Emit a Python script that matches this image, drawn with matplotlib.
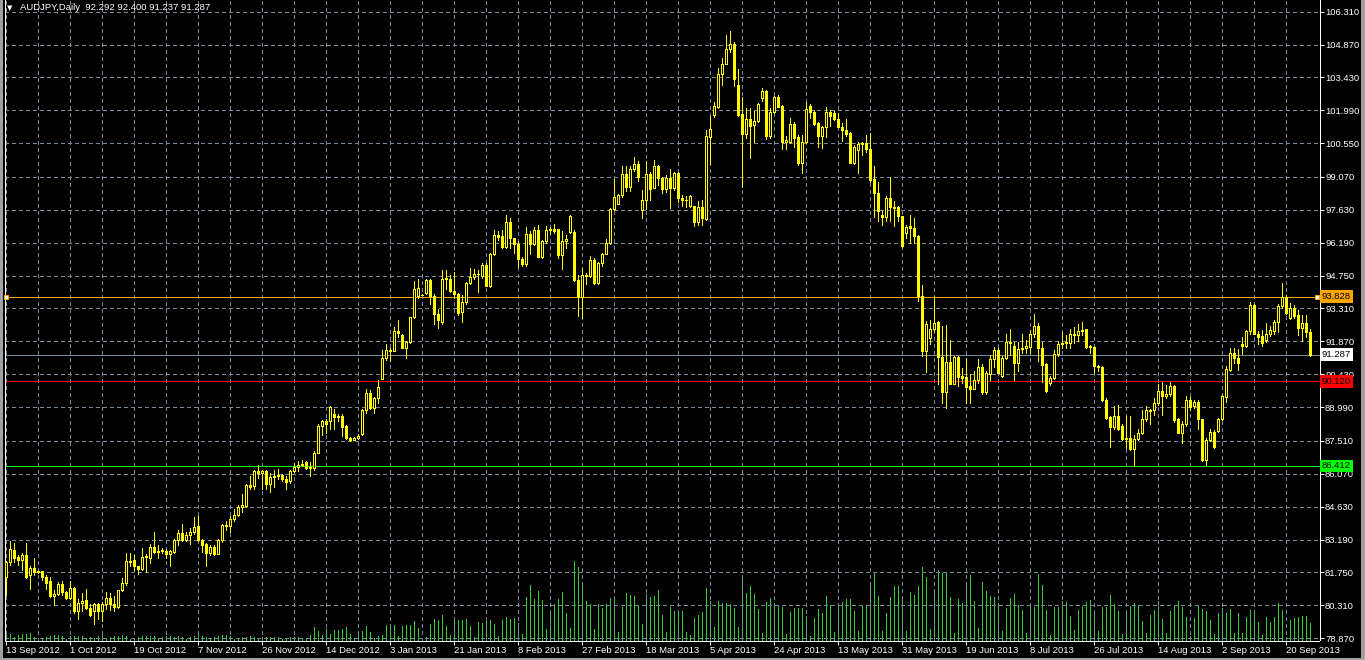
import numpy as np
import matplotlib
matplotlib.use("Agg")
import matplotlib.pyplot as plt
from matplotlib.patches import Rectangle
from matplotlib.transforms import blended_transform_factory

symbol = "AUDJPY,Daily"

# daily bars, 13 Sep 2012 .. 27 Sep 2013
opens = [
    81.53, 82.22, 82.73, 82.44, 82.29, 82.51, 81.62, 81.96, 81.76, 81.79,
    81.55, 81.39, 80.70, 80.81, 81.24, 80.88, 80.61, 81.07, 80.06, 80.43,
    80.52, 80.18, 80.06, 80.38, 80.06, 80.35, 80.64, 80.35, 80.24, 80.97,
    81.29, 82.27, 82.29, 82.01, 81.91, 82.44, 82.39, 82.87, 82.63, 82.68,
    82.70, 82.57, 82.63, 83.16, 83.49, 83.16, 83.40, 83.52, 83.79, 83.16,
    82.98, 82.58, 82.87, 82.57, 83.16, 83.83, 83.78, 84.09, 84.27, 84.63,
    84.67, 85.56, 85.53, 86.18, 86.11, 86.18, 85.61, 85.94, 85.99, 86.02,
    85.85, 85.75, 86.18, 86.35, 86.47, 86.57, 86.33, 86.33, 87.00, 88.16,
    88.37, 88.40, 88.70, 88.56, 88.60, 88.16, 87.65, 87.56, 87.63, 87.80,
    88.85, 89.62, 88.97, 89.38, 90.24, 91.13, 91.48, 91.45, 92.33, 92.15,
    91.60, 91.84, 92.94, 93.86, 93.90, 93.97, 94.55, 93.86, 93.06, 92.73,
    94.59, 94.59, 94.08, 93.96, 93.17, 93.61, 94.44, 94.69, 94.81, 94.73,
    95.20, 94.30, 95.68, 96.53, 96.50, 96.00, 97.10, 96.38, 96.12, 95.46,
    95.28, 96.56, 96.15, 96.75, 95.57, 96.27, 96.75, 96.78, 96.78, 95.66,
    96.27, 96.68, 96.68, 94.55, 93.82, 94.78, 94.74, 95.42, 94.44, 95.32,
    95.71, 96.19, 97.65, 97.90, 98.30, 99.19, 98.63, 99.41, 99.66, 97.61,
    98.05, 99.22, 98.58, 99.56, 99.02, 98.55, 99.02, 98.58, 99.24, 98.17,
    98.04, 97.78, 97.81, 97.09, 97.75, 97.24, 100.84, 101.78, 102.15, 103.60,
    104.00, 104.69, 104.91, 103.09, 101.81, 100.94, 101.59, 101.35, 101.54, 102.54,
    102.83, 100.87, 101.90, 102.58, 102.18, 100.59, 100.59, 101.39, 100.81, 99.70,
    100.59, 102.18, 101.90, 101.45, 100.88, 101.27, 101.90, 101.86, 101.59, 101.27,
    101.13, 101.01, 99.70, 100.23, 100.52, 100.55, 100.30, 98.99, 98.36, 97.42,
    97.30, 98.14, 97.75, 97.75, 97.34, 96.61, 96.91, 96.83, 96.50, 93.85,
    91.45, 92.03, 92.39, 92.73, 91.20, 89.63, 90.98, 90.02, 91.20, 90.35,
    90.32, 89.92, 89.80, 90.16, 90.76, 89.63, 90.45, 91.08, 91.49, 90.36,
    91.13, 91.85, 91.66, 90.94, 91.52, 91.60, 91.63, 92.21, 92.53, 91.56,
    90.87, 90.04, 90.26, 91.32, 91.75, 91.78, 91.81, 92.19, 92.14, 92.32,
    92.39, 91.63, 91.63, 90.79, 90.76, 89.32, 88.55, 88.13, 88.59, 88.18,
    87.58, 87.65, 87.14, 87.58, 87.84, 88.45, 88.85, 88.85, 89.17, 89.68,
    89.46, 89.58, 89.92, 88.45, 87.87, 88.23, 89.32, 89.03, 89.23, 88.45,
    86.68, 87.55, 87.91, 87.94, 88.45, 89.43, 90.62, 91.34, 91.13, 91.75,
    91.66, 92.32, 93.45, 92.21, 92.10, 91.92, 92.21, 92.33, 92.72, 93.40,
    93.81, 92.91, 93.34, 93.01, 92.47, 92.68, 92.292,
]
highs = [
    82.25, 83.12, 83.02, 82.51, 82.58, 83.02, 82.04, 82.39, 81.83, 81.82,
    81.65, 81.57, 81.00, 81.31, 81.39, 80.95, 81.39, 81.10, 80.57, 80.85,
    81.03, 80.35, 80.42, 80.42, 80.47, 80.90, 80.85, 80.71, 81.00, 81.50,
    82.58, 82.61, 82.51, 82.05, 82.80, 82.55, 82.98, 83.52, 82.94, 82.80,
    82.77, 82.73, 83.23, 83.59, 83.88, 83.52, 83.69, 84.17, 84.24, 83.23,
    83.05, 82.94, 82.94, 83.23, 83.88, 83.98, 84.21, 84.53, 84.70, 85.17,
    85.61, 85.99, 86.25, 86.47, 86.25, 86.25, 86.11, 86.25, 86.28, 86.06,
    85.97, 86.22, 86.54, 86.61, 86.66, 86.61, 86.57, 87.05, 88.27, 88.44,
    88.49, 89.05, 88.90, 88.70, 88.70, 88.20, 87.70, 87.70, 87.80, 88.90,
    89.77, 89.73, 89.45, 90.17, 91.48, 91.74, 91.60, 92.50, 92.79, 92.18,
    91.90, 92.95, 94.52, 94.59, 93.95, 94.62, 94.62, 93.93, 93.28, 94.98,
    94.98, 94.78, 94.92, 93.99, 93.90, 94.45, 95.07, 95.03, 94.98, 95.32,
    95.32, 95.76, 96.74, 96.71, 96.74, 97.41, 97.29, 96.40, 96.27, 95.55,
    96.88, 96.71, 96.88, 96.97, 96.30, 96.92, 96.88, 97.03, 96.80, 96.71,
    96.53, 97.41, 96.74, 94.78, 95.10, 94.85, 95.61, 95.54, 95.35, 95.75,
    96.34, 97.70, 98.97, 98.34, 99.55, 99.55, 99.55, 99.95, 99.77, 98.49,
    99.77, 99.30, 99.82, 99.60, 99.09, 99.16, 99.42, 99.31, 99.31, 98.29,
    98.22, 98.29, 97.81, 98.00, 98.07, 101.13, 101.75, 102.34, 103.85, 104.26,
    105.28, 105.45, 104.99, 103.82, 102.58, 102.07, 102.07, 101.96, 102.29, 102.95,
    102.87, 102.07, 102.63, 102.66, 102.22, 100.88, 101.64, 101.49, 100.91, 100.91,
    102.34, 102.25, 102.00, 101.49, 101.32, 102.15, 102.00, 101.96, 101.86, 101.42,
    101.59, 101.06, 100.47, 100.59, 100.62, 100.91, 100.98, 99.53, 98.87, 97.56,
    98.22, 99.09, 98.03, 97.78, 97.37, 96.98, 97.42, 97.27, 96.54, 94.36,
    92.76, 92.79, 93.85, 92.76, 92.54, 92.58, 91.91, 91.23, 91.23, 90.69,
    91.13, 90.46, 90.57, 91.08, 90.89, 90.57, 91.27, 91.63, 91.56, 91.23,
    92.21, 92.39, 91.85, 91.85, 92.21, 91.92, 92.36, 93.05, 92.68, 91.85,
    90.91, 90.36, 91.49, 91.90, 92.29, 92.14, 92.39, 92.50, 92.65, 92.72,
    92.43, 91.70, 91.66, 90.84, 90.79, 89.39, 88.61, 89.05, 89.10, 88.23,
    88.59, 88.62, 87.75, 88.04, 88.88, 89.05, 88.91, 89.39, 90.01, 90.11,
    89.97, 90.11, 89.97, 88.52, 88.37, 89.46, 89.43, 89.32, 89.29, 88.48,
    87.65, 88.01, 87.98, 88.52, 89.53, 90.77, 91.56, 91.56, 91.52, 92.07,
    92.36, 93.59, 93.49, 92.33, 92.36, 92.68, 92.53, 92.82, 93.52, 94.42,
    93.88, 93.55, 93.45, 93.26, 93.01, 93.01, 92.400,
]
lows = [
    80.78, 82.08, 82.22, 82.08, 81.86, 81.50, 81.04, 81.65, 81.72, 81.43,
    81.04, 80.67, 80.32, 80.75, 80.78, 80.57, 80.57, 79.99, 79.71, 80.06,
    80.13, 79.86, 79.49, 79.71, 79.63, 80.13, 80.09, 80.06, 80.21, 80.93,
    81.21, 82.01, 81.86, 81.69, 81.86, 81.76, 82.15, 82.60, 82.37, 82.58,
    82.37, 82.05, 82.58, 82.94, 83.14, 83.14, 82.98, 83.45, 83.12, 82.65,
    82.05, 82.51, 82.51, 82.55, 83.09, 83.59, 83.52, 84.02, 84.21, 84.38,
    84.63, 85.39, 85.39, 85.90, 85.39, 85.39, 85.29, 85.50, 85.82, 85.75,
    85.39, 85.68, 86.15, 86.18, 86.43, 86.29, 85.98, 86.25, 86.97, 87.77,
    87.84, 88.02, 88.02, 88.40, 87.73, 87.58, 87.50, 87.55, 87.60, 87.78,
    88.75, 88.90, 88.75, 89.19, 90.20, 91.04, 91.00, 91.45, 92.06, 91.57,
    91.13, 91.80, 92.90, 93.79, 93.88, 93.96, 93.49, 92.62, 92.44, 92.62,
    94.15, 94.05, 93.79, 93.03, 92.73, 93.52, 94.40, 94.59, 94.05, 94.66,
    94.28, 94.25, 95.65, 96.30, 95.95, 95.98, 95.95, 95.76, 95.13, 95.17,
    95.17, 95.71, 96.10, 95.55, 95.51, 96.20, 96.60, 96.63, 95.54, 95.03,
    95.95, 96.63, 94.50, 92.98, 92.91, 94.40, 94.70, 94.40, 94.40, 95.17,
    95.70, 96.12, 97.61, 97.87, 98.20, 98.46, 98.46, 99.33, 98.90, 97.29,
    97.65, 98.05, 98.58, 98.70, 98.36, 98.43, 97.71, 98.51, 97.97, 97.78,
    97.74, 97.74, 96.91, 96.98, 96.98, 97.20, 99.63, 101.71, 102.07, 103.09,
    104.00, 104.55, 103.06, 101.75, 98.65, 100.76, 99.92, 100.62, 101.49, 102.39,
    100.73, 100.76, 101.86, 102.12, 100.30, 100.30, 100.55, 100.40, 99.60, 99.26,
    100.55, 101.67, 101.35, 100.40, 100.36, 100.84, 101.32, 101.56, 101.24, 100.66,
    100.87, 99.67, 99.63, 99.26, 100.04, 100.18, 98.87, 97.30, 97.12, 96.98,
    97.12, 97.12, 96.91, 97.12, 96.00, 96.40, 96.18, 96.18, 93.63, 91.23,
    90.54, 91.77, 92.32, 90.02, 89.19, 88.97, 89.99, 89.99, 89.92, 90.06,
    89.15, 89.19, 89.77, 90.06, 89.58, 89.55, 90.18, 90.76, 90.47, 90.33,
    91.08, 91.27, 90.16, 90.55, 91.34, 91.34, 91.37, 92.07, 91.03, 90.07,
    89.66, 89.97, 90.22, 91.23, 91.56, 91.60, 91.60, 91.81, 91.90, 92.14,
    91.60, 91.37, 90.50, 90.55, 89.24, 88.48, 87.26, 88.01, 87.98, 87.55,
    87.22, 87.11, 86.42, 87.55, 87.80, 88.37, 88.23, 88.63, 89.10, 88.63,
    89.39, 89.46, 88.34, 87.84, 87.43, 88.18, 88.88, 88.95, 88.04, 86.64,
    86.45, 87.50, 87.22, 87.90, 88.42, 89.20, 90.55, 90.91, 90.62, 91.31,
    91.63, 92.21, 92.18, 91.75, 91.66, 91.85, 92.10, 92.21, 92.29, 93.34,
    93.08, 92.87, 92.91, 92.14, 91.90, 92.07, 91.237,
]
closes = [
    82.22, 82.76, 82.39, 82.29, 82.51, 81.57, 81.96, 81.76, 81.79, 81.53,
    81.29, 80.70, 80.81, 81.24, 80.88, 80.61, 81.07, 80.06, 80.43, 80.49,
    80.18, 79.89, 80.38, 80.06, 80.35, 80.64, 80.35, 80.24, 80.97, 81.29,
    82.27, 82.22, 82.01, 81.91, 82.44, 82.47, 82.87, 82.63, 82.68, 82.73,
    82.54, 82.67, 83.16, 83.49, 83.16, 83.40, 83.52, 83.76, 83.16, 82.94,
    82.58, 82.87, 82.57, 83.16, 83.83, 83.78, 84.09, 84.27, 84.63, 84.70,
    85.56, 85.51, 86.18, 86.11, 86.18, 85.61, 85.94, 85.99, 86.02, 85.85,
    85.71, 86.18, 86.35, 86.47, 86.50, 86.33, 86.37, 87.00, 88.16, 88.37,
    88.23, 88.98, 88.56, 88.60, 88.12, 87.65, 87.55, 87.63, 87.72, 88.85,
    89.62, 88.97, 89.38, 89.87, 91.13, 91.48, 91.45, 92.33, 92.25, 91.60,
    91.84, 92.94, 94.15, 94.22, 93.92, 94.55, 93.86, 93.06, 92.79, 94.59,
    94.66, 94.08, 93.96, 93.13, 93.61, 94.44, 94.69, 94.81, 94.84, 95.20,
    94.30, 95.68, 96.53, 96.45, 96.00, 97.10, 96.38, 96.12, 95.46, 95.28,
    96.56, 96.15, 96.75, 95.57, 96.27, 96.75, 96.78, 96.71, 95.66, 96.27,
    96.37, 97.36, 94.55, 93.82, 94.78, 94.74, 95.42, 94.44, 95.32, 95.71,
    96.19, 97.65, 98.20, 98.30, 99.19, 98.63, 99.41, 99.66, 99.07, 98.05,
    99.22, 98.53, 99.56, 99.02, 98.55, 99.02, 98.58, 99.24, 98.17, 98.04,
    98.07, 98.25, 97.09, 97.75, 97.27, 100.87, 101.17, 102.18, 103.60, 104.00,
    104.69, 104.91, 103.38, 101.78, 100.94, 101.59, 101.32, 101.54, 102.25, 102.83,
    100.87, 101.90, 102.58, 102.15, 100.59, 100.69, 101.39, 100.79, 99.70, 100.62,
    102.05, 101.90, 101.39, 100.88, 101.27, 101.90, 101.75, 101.59, 101.27, 101.13,
    100.94, 99.70, 100.37, 100.52, 100.55, 100.28, 98.94, 98.36, 97.60, 97.30,
    98.14, 97.74, 97.71, 97.34, 96.03, 96.88, 96.83, 96.47, 93.85, 91.45,
    92.61, 92.39, 92.68, 91.20, 89.63, 90.98, 90.02, 91.20, 90.32, 90.28,
    89.89, 89.80, 90.16, 90.76, 89.63, 90.50, 91.08, 91.49, 90.50, 91.13,
    91.85, 91.78, 90.94, 91.52, 91.60, 91.66, 92.21, 92.53, 91.56, 90.84,
    89.68, 90.26, 91.32, 91.75, 91.79, 91.85, 92.19, 92.13, 92.32, 92.38,
    91.63, 91.66, 90.79, 90.76, 89.29, 88.52, 88.13, 88.59, 88.01, 87.58,
    87.65, 87.14, 87.61, 87.84, 88.45, 88.85, 88.82, 89.17, 89.68, 89.46,
    89.58, 89.92, 88.42, 87.87, 88.23, 89.32, 89.00, 89.23, 88.45, 86.68,
    87.55, 87.91, 87.26, 88.45, 89.46, 90.65, 91.34, 91.13, 90.94, 91.66,
    92.32, 93.45, 92.21, 92.07, 91.81, 92.21, 92.36, 92.72, 93.40, 93.81,
    93.11, 93.34, 92.97, 92.47, 92.68, 92.29, 91.287,
]
# tick volume, relative units
volumes = [
    5, 6, 3, 5, 6, 6, 7, 3, 1, 2, 3, 4, 5, 5, 4, 1, 4, 4, 4, 4,
    2, 3, 2, 4, 6, 2, 3, 4, 4, 5, 4, 1, 1, 3, 4, 4, 4, 4, 2, 3,
    4, 4, 3, 4, 3, 1, 3, 4, 8, 4, 3, 2, 3, 4, 5, 5, 4, 1, 2, 3,
    3, 4, 3, 1, 3, 3, 3, 3, 3, 1, 2, 3, 3, 3, 2, 1, 5,
    13, 9, 5, 11, 6, 10, 10, 11, 13, 6, 2, 5, 9, 14, 8, 2, 4, 5, 15, 16, 15, 4,
    14, 15, 15, 19, 12, 2, 3, 16, 21, 20, 25, 14, 5, 20, 20, 20, 21, 14, 3, 18,
    17, 21, 20, 16, 4, 20, 23, 21, 22, 17, 6, 43, 55, 41, 49, 40, 11, 29, 36, 41,
    48, 27, 12, 79, 73, 58, 39, 36, 11, 36, 32, 36, 42, 40, 8, 33, 47, 45, 44, 35,
    16, 46, 43, 44, 50, 25, 8, 33, 29, 29, 29, 8, 5, 22, 25, 28, 52, 39, 13, 39,
    37, 37, 36, 32, 13, 64, 47, 54, 46, 31, 7, 38, 42, 34, 34, 33, 6, 28, 32, 32,
    32, 24, 4, 22, 31, 27, 44, 35, 8, 34, 38, 41, 41,
    29, 9, 34, 34, 58, 68, 44, 9, 27, 43, 54, 54, 44, 9, 48, 45, 54, 73, 63, 11,
    51, 70, 67, 68, 43, 7, 41, 37, 57, 65, 39, 12, 58, 49, 44, 43, 33, 9, 32, 42,
    46, 35, 30, 7, 33, 33, 66, 55, 30, 5, 33, 33, 39, 38, 24, 10, 30, 34, 38, 40,
    27, 9, 33, 33, 45, 36, 29, 6, 27, 34, 37, 35, 19, 7, 25, 30, 39, 21, 7, 29,
    34, 39, 33, 23, 4, 22, 35, 31, 29, 20, 6, 27, 32, 27, 31, 7, 27, 7, 23, 30,
    29, 18, 5, 23, 18, 23, 37, 30, 3, 20, 22, 23, 24, 24, 17,
]

date_labels = ["13 Sep 2012", "1 Oct 2012", "19 Oct 2012", "7 Nov 2012", "26 Nov 2012",
               "14 Dec 2012", "3 Jan 2013", "21 Jan 2013", "8 Feb 2013", "27 Feb 2013",
               "18 Mar 2013", "5 Apr 2013", "24 Apr 2013", "13 May 2013", "31 May 2013",
               "19 Jun 2013", "8 Jul 2013", "26 Jul 2013", "14 Aug 2013", "2 Sep 2013",
               "20 Sep 2013"]
label_every = 16  # bars between time labels

price_ticks = [106.310, 104.870, 103.430, 101.990, 100.550, 99.070, 97.630, 96.190,
               94.750, 93.310, 91.870, 90.430, 88.990, 87.510, 86.070, 84.630,
               83.190, 81.750, 80.310, 78.870]

# horizontal lines: resistance, bid, level, support
level_prices = [93.828, closes[-1], 90.120, 86.412]
level_colors = ["#ffa500", "#778899", "#ff0000", "#00ff00"]
level_box = ["#ffa500", "#ffffff", "#ff0000", "#00ff00"]

n = len(closes)
assert len(opens) == len(highs) == len(lows) == n == len(volumes)

o = np.array(opens); h = np.array(highs); l = np.array(lows); c = np.array(closes)
x = np.arange(n)
W, H = 1365, 660
PX = 72 / 100.0  # one pixel in points

plt.rcParams['font.family'] = ['Liberation Sans', 'DejaVu Sans']

fig = plt.figure(figsize=(W / 100, H / 100), dpi=100, facecolor="black")
rect = [4.5 / W, (H - 640.5) / H, 1315 / W, 640.5 / H]

vax = fig.add_axes(rect, zorder=0)
ax = fig.add_axes(rect, zorder=1, sharex=vax)
ax.patch.set_alpha(0)
vax.set_facecolor("black")

# volumes
vax.vlines(x, 0, volumes, colors="#32cd32", lw=PX, antialiased=False)
vax.set_ylim(0, max(volumes) / 0.124)
vax.set_axis_off()

# candles
up = c >= o
ax.vlines(x, np.minimum(l, np.minimum(o, c)), np.maximum(h, np.maximum(o, c)),
          colors="#ffff00", lw=PX, antialiased=False, zorder=3)
ax.bar(x[up], (c - o)[up], bottom=o[up], width=0.5, facecolor="black",
       edgecolor="#ffff00", linewidth=PX, antialiased=False, zorder=4)
ax.bar(x[~up], (o - c)[~up], bottom=c[~up], width=0.5, facecolor="#ffff00",
       edgecolor="#ffff00", linewidth=PX, antialiased=False, zorder=4)

ax.set_xlim(-0.375, 328.375)
ax.set_ylim(78.767, 106.822)

# grid
ax.set_xticks(np.arange(0, n, label_every // 2), minor=True)
ax.set_xticks(np.arange(len(date_labels)) * label_every, date_labels)
ax.set_yticks(price_ticks, [f"{t:.3f}" for t in price_ticks])
ax.grid(True, which="both", color="#778899", linestyle=(0, (3, 3)), linewidth=PX,
        antialiased=False)
ax.set_axisbelow(True)

ax.yaxis.tick_right()
ax.tick_params(axis="y", which="major", colors="white", length=4 * PX, width=PX,
               pad=1.5 * PX, labelsize=6.8, labelcolor="white")
ax.tick_params(axis="x", which="major", colors="white", length=4 * PX, width=PX,
               pad=1.5 * PX, labelsize=6.8, labelcolor="white")
ax.tick_params(axis="x", which="minor", length=0)
for lab in ax.get_xticklabels():
    lab.set_ha("left")

for side in ["left", "right", "bottom"]:
    ax.spines[side].set_color("white")
    ax.spines[side].set_linewidth(PX)
ax.spines["top"].set_visible(False)

# horizontal levels and their price boxes
tr = blended_transform_factory(fig.transFigure, ax.transData)
for p, col, box in zip(level_prices, level_colors, level_box):
    ax.axhline(p, color=col, lw=PX, zorder=2, antialiased=False)
    ax.text(1322 / W, p, f"{p:.3f}", transform=tr, ha="left", va="center",
            fontsize=6.8, color="black", zorder=10, clip_on=False,
            bbox=dict(boxstyle="square,pad=0.2", fc=box, ec="none"))

ax.plot([-0.1, 327.8], [level_prices[0]] * 2, "s", ms=3 * PX * 1.3, mfc="white",
        mec="#ffa500", mew=PX, clip_on=False, zorder=6, ls="none")

# title
fig.text(7 / W, 1 - 8.5 / H, "\u25bc", color="white", fontsize=5,
         family="DejaVu Sans", va="center", ha="left")
fig.text(20 / W, 1 - 8 / H,
         f"{symbol}  {opens[-1]:.3f} {highs[-1]:.3f} {lows[-1]:.3f} {closes[-1]:.3f}",
         color="white", fontsize=6.8, va="center", ha="left")

# window frame
for r in [(0, 0, 3 / W, 1), (1361 / W, 0, 4 / W, 1), (0, 0, 1, 2 / H)]:
    fig.patches.append(Rectangle(r[:2], r[2], r[3], transform=fig.transFigure,
                                 facecolor="#a0a0a0", edgecolor="none"))

fig.savefig("out.png", dpi=100, facecolor="black")
